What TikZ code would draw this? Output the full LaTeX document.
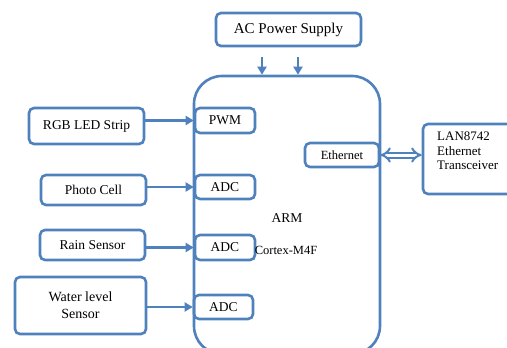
\documentclass[tikz,border=0pt]{standalone}
\usepackage{fontspec}
\setmainfont{Liberation Serif}
\usetikzlibrary{arrows.meta}
\definecolor{bl}{HTML}{4F81BD}
\begin{document}
\begin{tikzpicture}[x=1pt,y=-1pt,
  box/.style={draw=bl,line width=2.6pt,rounded corners=5pt,inner sep=0pt,font=\fontsize{13.5}{15}\selectfont,align=center},
  arr/.style={draw=bl,line width=2.2pt,-{Triangle[length=8pt,width=9pt]}}]
\useasboundingbox (0,0) rectangle (507,348);
\node[box,minimum width=145pt,minimum height=33pt,font=\fontsize{15}{17}\selectfont] (ac) at (288.5,29.5) {AC Power Supply};
\node[draw=bl,line width=2.6pt,rounded corners=28pt,minimum width=186pt,minimum height=278pt] (arm) at (287,215) {};
\node[box,minimum width=60pt,minimum height=25pt] (pwm) at (225,120.5) {PWM};
\node[box,minimum width=60pt,minimum height=24pt] (adc1) at (225,187) {ADC};
\node[box,minimum width=60pt,minimum height=25pt] (adc2) at (225,247.5) {ADC};
\node[box,minimum width=59pt,minimum height=24pt] (adc3) at (223.5,307) {ADC};
\node[box,minimum width=74pt,minimum height=24pt,font=\fontsize{12.5}{14}\selectfont] (eth) at (342,155) {Ethernet};
\node[box,minimum width=115pt,minimum height=36pt] (rgb) at (86.5,126) {RGB LED Strip};
\node[box,minimum width=105pt,minimum height=30pt] (pc) at (93.5,190) {Photo Cell};
\node[box,minimum width=105pt,minimum height=30pt] (rain) at (92.5,245) {Rain Sensor};
\node[box,minimum width=131pt,minimum height=57pt,font=\fontsize{14}{17}\selectfont] (wl) at (80.5,305.5) {Water level\\Sensor};
\node[box,minimum width=100pt,minimum height=70pt] (lan) at (473,159) {};
\node[anchor=north west,inner sep=0pt,align=left,font=\fontsize{13}{14.5}\selectfont] (lant) at (437,132) {LAN8742\\Ethernet\\Transceiver};
\node[inner sep=0pt,font=\fontsize{13.5}{15}\selectfont] (armt) at (287,218) {ARM};
\node[inner sep=0pt,font=\fontsize{12.5}{14}\selectfont] (cor) at (286,250) {Cortex-M4F};
\coordinate (p1) at (262,57);
\coordinate (p2) at (298,57);
\draw[arr] (p1) -- (p1 |- arm.north);
\draw[arr] (p2) -- (p2 |- arm.north);
\draw[arr] (rgb.east |- pwm.west) -- (pwm.west);
\draw[arr] (pc.east |- adc1.west) -- (adc1.west);
\draw[arr] (rain.east |- adc2.west) -- (adc2.west);
\draw[arr] (wl.east |- adc3.west) -- (adc3.west);
\draw[bl,line width=2pt,double=white,double distance=3pt,{Implies[length=5pt,width=8pt]}-{Implies[length=5pt,width=8pt]}] (eth.east) -- (lan.west |- eth.east);
\end{tikzpicture}
\end{document}
